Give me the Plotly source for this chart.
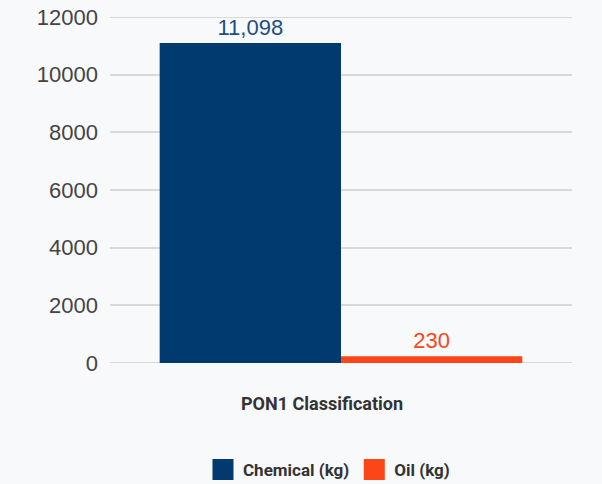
import plotly.graph_objects as go

category = ["PON1 Classification"]
series_names = ["Chemical (kg)", "Oil (kg)"]
chemical = [11098]
oil = [230]
y_ticks = [0, 2000, 4000, 6000, 8000, 10000, 12000]

colors = ["#003A6F", "#FC4617"]
label_colors = ["#1F4E80", "#FC4617"]

fig = go.Figure()
for name, vals, c, lc in zip(series_names, [chemical, oil], colors, label_colors):
    fig.add_trace(go.Bar(
        x=category, y=vals, name=name, marker=dict(color=c, line=dict(width=0)),
        text=[f"{v:,}" for v in vals], textposition="outside",
        textfont=dict(family="Liberation Sans, Arial, sans-serif", size=22, color=lc),
        cliponaxis=False, showlegend=False,
    ))
# legend entries (larger square swatches)
for name, c in zip(series_names, colors):
    fig.add_trace(go.Scatter(
        x=[None], y=[None], name=name, mode="markers",
        marker=dict(symbol="square", size=16, color=c, line=dict(color=c, width=5)),
        showlegend=True,
    ))

fig.update_layout(
    width=602, height=484,
    paper_bgcolor="#F8F9FB", plot_bgcolor="#F8F9FB",
    barmode="group", bargap=0.215, bargroupgap=0,
    margin=dict(l=110, r=30, t=17, b=121),
    showlegend=True,
    legend=dict(orientation="h", x=0.474, xanchor="center", xref="paper",
                y=(484 - 470) / 484, yanchor="middle", yref="container",
                font=dict(family="Roboto, Liberation Sans, sans-serif", size=17, color="#333333", weight="bold"),
                traceorder="normal", itemsizing="trace"),
    xaxis=dict(showticklabels=False, showgrid=False, zeroline=False, automargin=False),
    yaxis=dict(range=[0, 12000], tickvals=y_ticks, ticktext=[str(v) for v in y_ticks],
               showgrid=True, gridcolor="#D9D9D9", gridwidth=2, zeroline=False,
               showline=False, ticks="", ticklabelstandoff=11, automargin=False,
               tickfont=dict(family="Liberation Sans, Arial, sans-serif", size=22, color="#444444")),
    annotations=[dict(text="<b>PON1 Classification</b>", xref="paper", yref="paper",
                      x=(321.5 - 110) / 462, y=(363 - 403) / 346, xanchor="center", yanchor="middle",
                      showarrow=False,
                      font=dict(family="Roboto, Liberation Sans, sans-serif", size=18, color="#333333"))],
)
fig.add_shape(type="line", xref="paper", yref="y", x0=0, x1=1, y0=0, y1=0,
              line=dict(color="#D9D9D9", width=2), layer="below")
fig.add_shape(type="line", xref="paper", yref="y", x0=0, x1=1, y0=12000, y1=12000,
              line=dict(color="#D9D9D9", width=2), layer="below")

fig.write_html("out.html", config={"displayModeBar": False},
               post_script="document.body.style.margin='0';")
